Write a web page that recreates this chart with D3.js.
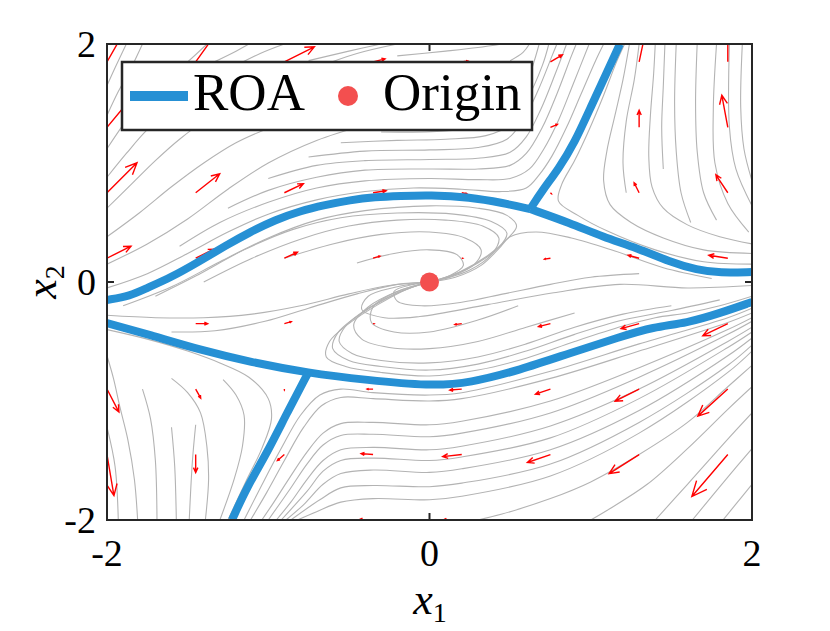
<!DOCTYPE html>
<html>
<head>
<meta charset="utf-8">
<script src="https://cdn.jsdelivr.net/npm/d3@7"></script>
<style>
  body { margin: 0; background: #fff; }
</style>
</head>
<body>
<script>
// ---- data ----
const tickValues = [-2, 0, 2];

// quiver grid and vectors (rows top to bottom)
const gridX = [-2, -1.45, -0.9, -0.35, 0.2, 0.75, 1.3, 1.85];
const gridY = [1.85, 1.3, 0.75, 0.2, -0.35, -0.9, -1.45, -2];
const quiverU = [
  [0.099, 0.124, 0.186, 0.074, 0.037, 0.074, 0.037, 0.0],
  [0.155, 0.136, 0.124, 0.087, 0.05, 0.043, 0.0, -0.037],
  [0.186, 0.149, 0.118, 0.081, 0.031, 0.006, -0.031, -0.074],
  [0.149, 0.112, 0.081, 0.043, 0.006, -0.037, -0.068, -0.118],
  [0.118, 0.074, 0.043, 0.006, -0.043, -0.074, -0.112, -0.155],
  [0.074, 0.031, 0.0, -0.037, -0.074, -0.093, -0.149, -0.186],
  [0.043, 0.0, -0.043, -0.074, -0.118, -0.143, -0.186, -0.223],
  [0.03, -0.01, -0.05, -0.09, -0.13, -0.16, -0.2, -0.24]
];
const quiverV = [
  [0.235, 0.235, 0.126, 0.025, 0.008, 0.059, 0.235, 0.269],
  [0.252, 0.185, 0.101, 0.034, 0.0, 0.025, 0.143, 0.269],
  [0.252, 0.16, 0.076, 0.017, -0.008, -0.008, 0.084, 0.151],
  [0.101, 0.076, 0.05, 0.017, 0.0, -0.008, 0.025, 0.025],
  [-0.042, 0.0, 0.017, 0.0, -0.008, -0.025, -0.042, -0.101],
  [-0.193, -0.076, -0.008, 0.0, -0.008, -0.042, -0.101, -0.227],
  [-0.345, -0.151, -0.05, 0.008, -0.017, -0.067, -0.16, -0.353],
  [-0.45, -0.2, -0.06, 0.0, -0.01, -0.08, -0.2, -0.4]
];

// ROA boundary pieces
const roaUpperLeft = [[-2, -0.151], [-1.857, -0.118], [-1.752, -0.05], [-1.609, 0.034], [-1.423, 0.176],
  [-1.268, 0.303], [-1.113, 0.42], [-0.958, 0.521], [-0.803, 0.597], [-0.648, 0.647], [-0.493, 0.689],
  [-0.338, 0.714], [-0.183, 0.723], [0.003, 0.731], [0.251, 0.714], [0.456, 0.664], [0.625, 0.613]];
const roaUpperRight = [[0.625, 0.613], [0.871, 0.496], [1.076, 0.378], [1.287, 0.286], [1.492, 0.168],
  [1.659, 0.101], [1.802, 0.076], [2, 0.084]];
const roaUpperBranch = [[0.625, 0.613], [0.7, 0.77], [0.8, 0.95], [0.9, 1.17], [1.0, 1.47], [1.1, 1.76], [1.181, 2.0]];
const roaLower = [[-2, -0.345], [-1.733, -0.445], [-1.423, -0.571], [-1.113, -0.672], [-0.753, -0.765],
  [-0.388, -0.824], [0.003, -0.874], [0.251, -0.849], [0.561, -0.739], [0.871, -0.597], [1.181, -0.462],
  [1.386, -0.378], [1.597, -0.345], [1.802, -0.261], [2, -0.168]];
const roaLowerBranch = [[-0.753, -0.765], [-0.884, -1.101], [-1.008, -1.437], [-1.132, -1.723], [-1.225, -2.0]];

const originPoint = [0, 0];

// streamlines, by region
const streamsUpperLeft = [
  [[-2,-0.05],[-1.75,0.07],[-1.5,0.24],[-1.25,0.42],[-1.0,0.57],[-0.7,0.69],[-0.4,0.76],[-0.1,0.79],[0.2,0.78],[0.45,0.76],[0.6,0.79],[0.68,0.9],[0.76,1.06],[0.85,1.3],[0.94,1.58],[1.03,1.86],[1.08,2.0]],
  [[-1.55,0.3],[-1.3,0.5],[-1.0,0.67],[-0.7,0.79],[-0.4,0.85],[0,0.87],[0.3,0.86],[0.5,0.87],[0.62,0.95],[0.71,1.12],[0.8,1.36],[0.89,1.66],[0.99,2.0]],
  [[-1.25,0.62],[-1.0,0.77],[-0.7,0.88],[-0.4,0.94],[0,0.95],[0.3,0.95],[0.5,0.98],[0.6,1.08],[0.7,1.3],[0.79,1.58],[0.88,1.9],[0.91,2.0]],
  [[-1.0,0.87],[-0.7,0.98],[-0.4,1.02],[0,1.03],[0.3,1.04],[0.5,1.09],[0.6,1.22],[0.69,1.45],[0.78,1.75],[0.85,2.0]],
  [[-0.75,1.05],[-0.4,1.1],[0,1.11],[0.3,1.13],[0.48,1.2],[0.58,1.36],[0.67,1.6],[0.76,1.9],[0.79,2.0]],
  [[-0.55,1.17],[-0.2,1.19],[0.1,1.2],[0.35,1.23],[0.5,1.32],[0.6,1.52],[0.7,1.82],[0.74,2.0]],
  [[-0.3,1.26],[0.1,1.27],[0.35,1.32],[0.5,1.45],[0.6,1.67],[0.68,2.0]],
  [[-2,0.15],[-1.75,0.32],[-1.5,0.53],[-1.25,0.78],[-1.0,1.0],[-0.7,1.19],[-0.4,1.32]],
  [[-2,0.38],[-1.8,0.58],[-1.6,0.8],[-1.4,1.0],[-1.2,1.17],[-0.95,1.32]],
  [[-2,0.62],[-1.85,0.82],[-1.7,1.02],[-1.55,1.2],[-1.4,1.35],[-1.2,1.5],[-0.95,1.65],[-0.7,1.8],[-0.45,1.92],[-0.2,2.0]],
  [[-2,0.88],[-1.88,1.08],[-1.75,1.28],[-1.6,1.45],[-1.45,1.6],[-1.25,1.78],[-1.05,1.92],[-0.9,2.0]],
  [[-2,1.12],[-1.9,1.32],[-1.8,1.5],[-1.65,1.68],[-1.5,1.85],[-1.38,2.0]],
  [[-2,1.4],[-1.93,1.6],[-1.85,1.8],[-1.78,2.0]],
  [[-2,1.65],[-1.95,1.8],[-1.88,2.0]],
  [[-1.35,1.84],[-1.2,1.94],[-1.12,2.0]],
  [[-0.75,1.86],[-0.5,1.94],[-0.3,2.0]],
  [[-0.2,1.9],[0.1,1.94],[0.3,1.97],[0.45,2.0]],
  [[0.5,1.86],[0.58,1.93],[0.62,2.0]]
];
const streamsUpperRight = [
  [[2.0,0.15],[1.7,0.17],[1.4,0.27],[1.1,0.43],[0.92,0.56],[0.8,0.68],[0.82,0.82],[0.9,1.02],[0.99,1.28],[1.08,1.57],[1.16,1.85],[1.21,2.0]],
  [[2.0,0.24],[1.7,0.27],[1.45,0.37],[1.25,0.5],[1.12,0.65],[1.08,0.85],[1.1,1.1],[1.15,1.4],[1.2,1.7],[1.24,2.0]],
  [[2.0,0.32],[1.8,0.38],[1.6,0.48],[1.45,0.62],[1.38,0.8],[1.36,1.05],[1.37,1.4],[1.39,1.75],[1.4,2.0]],
  [[1.62,0.5],[1.56,0.75],[1.53,1.1],[1.52,1.5],[1.53,2.0]],
  [[1.78,0.52],[1.7,0.75],[1.66,1.1],[1.65,1.5],[1.66,2.0]],
  [[1.98,0.42],[1.85,0.66],[1.77,1.0],[1.76,1.45],[1.78,2.0]],
  [[2.0,0.64],[1.9,0.95],[1.86,1.3],[1.86,2.0]],
  [[2.0,0.85],[1.95,1.12],[1.93,1.47],[1.94,2.0]],
  [[1.22,0.75],[1.2,1.0],[1.22,1.35],[1.27,1.7],[1.3,2.0]],
  [[1.45,0.95],[1.44,1.3],[1.45,1.65],[1.46,2.0]]
];
const streamsInside = [
  [[2.0,-0.12],[1.8,-0.2],[1.6,-0.26],[1.4,-0.3],[1.2,-0.37],[0.9,-0.5],[0.6,-0.64],[0.3,-0.74],[0,-0.79],[-0.3,-0.76],[-0.52,-0.71],[-0.64,-0.63],[-0.62,-0.5],[-0.5,-0.35],[-0.32,-0.19],[-0.14,-0.06],[0,0]],
  [[1.8,-0.15],[1.5,-0.24],[1.2,-0.32],[0.9,-0.44],[0.6,-0.58],[0.3,-0.69],[0,-0.74],[-0.3,-0.71],[-0.5,-0.66],[-0.6,-0.56],[-0.57,-0.43],[-0.45,-0.29],[-0.27,-0.14],[-0.1,-0.04],[0,0]],
  [[1.5,-0.2],[1.2,-0.27],[0.9,-0.38],[0.6,-0.52],[0.3,-0.63],[0,-0.68],[-0.3,-0.66],[-0.48,-0.6],[-0.56,-0.5],[-0.52,-0.37],[-0.38,-0.22],[-0.2,-0.09],[0,0]],
  [[0.9,-0.26],[0.6,-0.38],[0.3,-0.5],[0,-0.56],[-0.25,-0.55],[-0.42,-0.48],[-0.47,-0.36],[-0.38,-0.21],[-0.2,-0.08],[0,0]],
  [[0.55,-0.2],[0.3,-0.32],[0,-0.42],[-0.22,-0.42],[-0.36,-0.34],[-0.35,-0.21],[-0.2,-0.08],[0,0]],
  [[-1.9,-0.2],[-1.6,-0.04],[-1.3,0.17],[-1.0,0.37],[-0.7,0.52],[-0.4,0.6],[0,0.64],[0.3,0.62],[0.48,0.56],[0.54,0.47],[0.48,0.36],[0.36,0.22],[0.18,0.08],[0,0]],
  [[-1.7,-0.12],[-1.45,0.05],[-1.15,0.27],[-0.85,0.44],[-0.55,0.54],[-0.2,0.58],[0.15,0.57],[0.38,0.51],[0.48,0.41],[0.43,0.29],[0.3,0.16],[0.15,0.06],[0,0]],
  [[-1.4,0.0],[-1.1,0.2],[-0.8,0.36],[-0.5,0.47],[-0.2,0.52],[0.1,0.52],[0.33,0.47],[0.43,0.37],[0.39,0.24],[0.25,0.1],[0.1,0.03],[0,0]],
  [[-0.9,0.2],[-0.6,0.32],[-0.3,0.4],[0,0.42],[0.22,0.37],[0.32,0.27],[0.28,0.15],[0.14,0.05],[0,0]],
  [[-0.45,0.16],[-0.22,0.24],[0,0.27],[0.17,0.23],[0.21,0.14],[0.12,0.05],[0,0]],
  [[-2,-0.28],[-1.7,-0.3],[-1.4,-0.3],[-1.1,-0.27],[-0.8,-0.2],[-0.5,-0.1],[-0.25,-0.03],[0,0]],
  [[-1.6,-0.42],[-1.33,-0.41],[-1.02,-0.33],[-0.75,-0.22],[-0.45,-0.1],[-0.2,-0.02],[0,0]],
  [[2.0,-0.03],[1.6,-0.05],[1.18,-0.02],[0.77,-0.09],[0.36,-0.19],[-0.06,-0.29],[-0.28,-0.3],[-0.42,-0.23],[-0.38,-0.12],[-0.2,-0.04],[0,0]],
  [[1.3,0.07],[1.0,0.04],[0.75,-0.02],[0.46,-0.1],[0.2,-0.17],[-0.05,-0.2],[-0.2,-0.16],[-0.22,-0.08],[-0.1,-0.02],[0,0]],
  [[1.75,0.03],[1.45,0.12],[1.15,0.26],[0.88,0.37],[0.66,0.42],[0.5,0.38],[0.43,0.28],[0.32,0.14],[0.16,0.04],[0,0]]
];
const streamsLowerRight = [
  [[2,-0.22],[1.85,-0.3],[1.3,-0.52],[0.75,-0.75],[0.2,-0.93],[0,-0.95],[-0.35,-0.93],[-0.55,-0.9],[-0.68,-0.95],[-0.8,-1.12],[-0.92,-1.4],[-1.03,-1.68],[-1.15,-2.0]],
  [[2,-0.26],[1.85,-0.34],[1.3,-0.58],[0.75,-0.81],[0.2,-0.98],[0,-1.0],[-0.35,-0.98],[-0.55,-0.97],[-0.67,-1.04],[-0.78,-1.22],[-0.9,-1.5],[-1.01,-1.77],[-1.11,-2.0]],
  [[2,-0.3],[1.85,-0.4],[1.3,-0.72],[0.75,-1.0],[0.2,-1.17],[0,-1.2],[-0.35,-1.18],[-0.55,-1.19],[-0.66,-1.27],[-0.76,-1.43],[-0.87,-1.65],[-0.97,-1.86],[-1.04,-2.0]],
  [[2,-0.33],[1.85,-0.44],[1.3,-0.8],[0.75,-1.1],[0.2,-1.27],[0,-1.3],[-0.35,-1.28],[-0.55,-1.29],[-0.66,-1.37],[-0.76,-1.53],[-0.87,-1.75],[-1.0,-2.0]],
  [[2,-0.38],[1.85,-0.5],[1.3,-0.9],[0.75,-1.21],[0.2,-1.38],[0,-1.41],[-0.35,-1.39],[-0.55,-1.41],[-0.66,-1.5],[-0.76,-1.66],[-0.86,-1.85],[-0.95,-2.0]],
  [[2,-0.42],[1.85,-0.55],[1.3,-0.98],[0.75,-1.31],[0.2,-1.47],[0,-1.5],[-0.35,-1.48],[-0.55,-1.5],[-0.66,-1.59],[-0.76,-1.76],[-0.92,-2.0]],
  [[2,-0.47],[1.85,-0.62],[1.3,-1.08],[0.75,-1.41],[0.2,-1.57],[0,-1.6],[-0.35,-1.58],[-0.55,-1.61],[-0.66,-1.7],[-0.78,-1.87],[-0.89,-2.0]],
  [[2,-0.53],[1.85,-0.7],[1.3,-1.18],[0.75,-1.53],[0.2,-1.69],[0,-1.72],[-0.35,-1.71],[-0.55,-1.73],[-0.68,-1.83],[-0.86,-2.0]],
  [[2,-0.58],[1.85,-0.76],[1.3,-1.27],[0.75,-1.63],[0.2,-1.8],[0,-1.83],[-0.35,-1.82],[-0.55,-1.85],[-0.7,-1.93],[-0.82,-2.0]],
  [[2,-0.7],[1.85,-0.88],[1.6,-1.18],[1.3,-1.45],[1.0,-1.68],[0.75,-1.82],[0.45,-1.95],[0.3,-2.0]],
  [[2,-0.88],[1.85,-1.07],[1.6,-1.4],[1.35,-1.7],[1.1,-1.92],[1.0,-2.0]],
  [[2,-1.1],[1.85,-1.32],[1.6,-1.7],[1.4,-2.0]],
  [[2,-1.4],[1.85,-1.64],[1.63,-2.0]],
  [[2,-1.7],[1.82,-2.0]]
];
const streamsLowerLeft = [
  [[-2,-0.4],[-1.75,-0.48],[-1.5,-0.58],[-1.3,-0.68],[-1.12,-0.8],[-1.0,-0.98],[-0.98,-1.15],[-1.04,-1.4],[-1.14,-1.68],[-1.25,-2.0]],
  [[-1.28,-0.82],[-1.2,-0.95],[-1.15,-1.12],[-1.16,-1.38],[-1.21,-1.65],[-1.3,-2.0]],
  [[-1.6,-0.81],[-1.5,-0.93],[-1.42,-1.1],[-1.38,-1.39],[-1.37,-1.66],[-1.39,-2.0]],
  [[-2,-0.62],[-1.96,-0.81],[-1.92,-1.05],[-1.87,-1.33],[-1.83,-1.66],[-1.81,-2.0]],
  [[-2,-1.22],[-1.95,-1.55],[-1.93,-2.0]],
  [[-1.6,-1.22],[-1.58,-1.55],[-1.57,-2.0]],
  [[-1.78,-0.9],[-1.73,-1.15],[-1.7,-1.5],[-1.69,-2.0]],
  [[-1.45,-1.2],[-1.47,-1.5],[-1.49,-2.0]]
];

// ---- drawing ----
const W = 830, H = 631;
const serif = '"Liberation Serif", Tinos, "DejaVu Serif", "Noto Serif", FreeSerif, "Times New Roman", Times, serif';

const svg = d3.select('body')
  .append('svg')
  .attr('width', W)
  .attr('height', H)
  .style('font-family', serif);

const x = d3.scaleLinear().domain([-2, 2]).range([107, 752]);
const y = d3.scaleLinear().domain([-2, 2]).range([520, 44]);

svg.append('defs').append('clipPath').attr('id', 'clip')
  .append('rect')
  .attr('x', x(-2)).attr('y', y(2))
  .attr('width', x(2) - x(-2)).attr('height', y(-2) - y(2));

const plot = svg.append('g').attr('clip-path', 'url(#clip)');

const line = d3.line()
  .x(d => x(d[0]))
  .y(d => y(d[1]))
  .curve(d3.curveCatmullRom.alpha(0.5));

const smooth = d3.line()
  .x(d => x(d[0]))
  .y(d => y(d[1]))
  .curve(d3.curveBasis);

const allStreams = [].concat(streamsUpperLeft, streamsUpperRight, streamsInside, streamsLowerRight, streamsLowerLeft);

plot.append('g')
  .selectAll('path')
  .data(allStreams)
  .join('path')
  .attr('d', line)
  .attr('fill', 'none')
  .attr('stroke', '#b3b3b3')
  .attr('stroke-width', 1.1);

// quiver arrows
const arrows = [];
gridY.forEach((gy, i) => {
  gridX.forEach((gx, j) => {
    arrows.push({x0: gx, y0: gy, x1: gx + quiverU[i][j], y1: gy + quiverV[i][j]});
  });
});

const qg = plot.append('g')
  .attr('stroke', '#ff0000')
  .attr('stroke-width', 1.4)
  .attr('fill', 'none');

arrows.forEach(a => {
  const px0 = x(a.x0), py0 = y(a.y0), px1 = x(a.x1), py1 = y(a.y1);
  const len = Math.hypot(px1 - px0, py1 - py0);
  if (len < 0.8) {
    qg.append('line').attr('x1', px0).attr('y1', py0).attr('x2', px0 + 1.5).attr('y2', py0);
    return;
  }
  const th = Math.atan2(py1 - py0, px1 - px0);
  const hl = 0.3 * len, ha = 0.42;
  const p = d3.path();
  p.moveTo(px0, py0);
  p.lineTo(px1, py1);
  p.moveTo(px1 - hl * Math.cos(th - ha), py1 - hl * Math.sin(th - ha));
  p.lineTo(px1, py1);
  p.lineTo(px1 - hl * Math.cos(th + ha), py1 - hl * Math.sin(th + ha));
  qg.append('path').attr('d', p.toString());
});

// ROA
const roaColor = '#2690d4';
plot.append('g')
  .selectAll('path')
  .data([roaUpperLeft, roaUpperRight, roaUpperBranch, roaLower, roaLowerBranch])
  .join('path')
  .attr('d', smooth)
  .attr('fill', 'none')
  .attr('stroke', roaColor)
  .attr('stroke-width', 8)
  .attr('stroke-linejoin', 'round');

// origin
const dotColor = '#f34f4f';
plot.append('circle')
  .attr('cx', x(originPoint[0]))
  .attr('cy', y(originPoint[1]))
  .attr('r', 9.5)
  .attr('fill', dotColor);

// axes box and ticks
const axisColor = '#262626';
svg.append('rect')
  .attr('x', x(-2)).attr('y', y(2))
  .attr('width', x(2) - x(-2)).attr('height', y(-2) - y(2))
  .attr('fill', 'none')
  .attr('stroke', axisColor)
  .attr('stroke-width', 2);

const ticks = svg.append('g').attr('stroke', axisColor).attr('stroke-width', 2);
tickValues.forEach(v => {
  ticks.append('line').attr('x1', x(v)).attr('x2', x(v)).attr('y1', y(-2)).attr('y2', y(-2) - 7);
  ticks.append('line').attr('x1', x(v)).attr('x2', x(v)).attr('y1', y(2)).attr('y2', y(2) + 7);
  ticks.append('line').attr('y1', y(v)).attr('y2', y(v)).attr('x1', x(-2)).attr('x2', x(-2) + 7);
  ticks.append('line').attr('y1', y(v)).attr('y2', y(v)).attr('x1', x(2)).attr('x2', x(2) - 7);
});

svg.append('g')
  .selectAll('text')
  .data(tickValues)
  .join('text')
  .attr('x', d => x(d))
  .attr('y', 566)
  .attr('text-anchor', 'middle')
  .attr('font-family', serif)
  .attr('font-size', 38)
  .text(d => d);

svg.append('g')
  .selectAll('text')
  .data(tickValues)
  .join('text')
  .attr('x', 96)
  .attr('y', d => y(d) + 13)
  .attr('text-anchor', 'end')
  .attr('font-family', serif)
  .attr('font-size', 38)
  .text(d => d);

// axis labels
const xl = svg.append('text')
  .attr('x', 430)
  .attr('y', 614)
  .attr('text-anchor', 'middle')
  .attr('font-family', serif);
xl.append('tspan').attr('font-style', 'italic').attr('font-size', 44).text('x');
xl.append('tspan').attr('font-size', 28).attr('dy', 8).text('1');

const yl = svg.append('text')
  .attr('transform', `translate(56,${y(0)}) rotate(-90)`)
  .attr('text-anchor', 'middle')
  .attr('font-family', serif);
yl.append('tspan').attr('font-style', 'italic').attr('font-size', 44).text('x');
yl.append('tspan').attr('font-size', 28).attr('dy', 8).text('2');

// legend
const lg = svg.append('g');
lg.append('rect')
  .attr('x', 122).attr('y', 62)
  .attr('width', 410).attr('height', 68)
  .attr('fill', '#fff')
  .attr('stroke', axisColor)
  .attr('stroke-width', 2.5);
lg.append('line')
  .attr('x1', 130).attr('x2', 188)
  .attr('y1', 96).attr('y2', 96)
  .attr('stroke', roaColor)
  .attr('stroke-width', 10);
lg.append('text')
  .attr('x', 193).attr('y', 110)
  .attr('font-family', serif)
  .attr('font-size', 53)
  .text('ROA');
lg.append('circle')
  .attr('cx', 348).attr('cy', 96)
  .attr('r', 10)
  .attr('fill', dotColor);
lg.append('text')
  .attr('x', 383).attr('y', 110)
  .attr('font-family', serif)
  .attr('font-size', 53)
  .text('Origin');
</script>
</body>
</html>
